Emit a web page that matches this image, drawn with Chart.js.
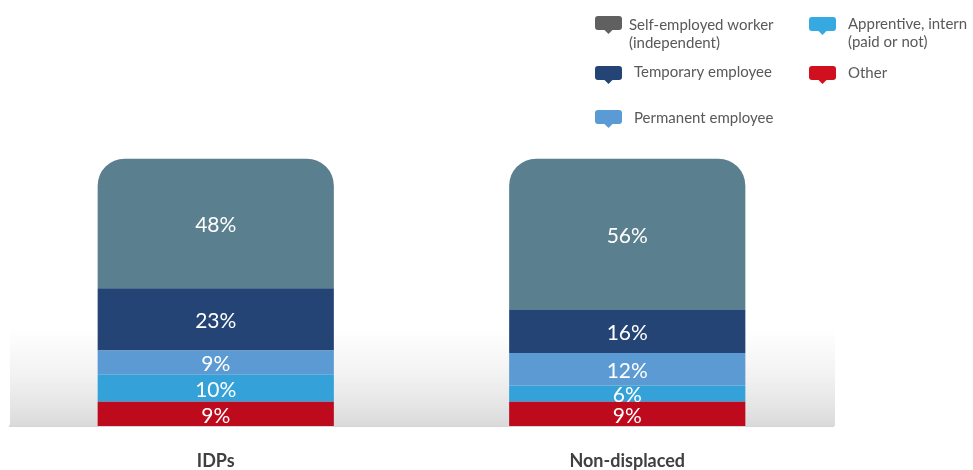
<!DOCTYPE html>
<html>
<head>
  <title>Employment status</title>
  <script src="https://cdn.jsdelivr.net/npm/chart.js"></script>
  <style>
    body { margin: 0; background: #fff; }
    .container { width: 973px; height: 470px; position: relative; }
  </style>
</head>
<body>
  <div class="container">
    <canvas id="statusChart"></canvas>
  </div>
  <script>
    var categories = ['IDPs', 'Non-displaced'];

    // stacked bottom to top
    var other = [9, 9];
    var apprentice = [10, 6];
    var permanent = [9, 12];
    var temporary = [23, 16];
    var selfEmployed = [48, 56];

    var seriesNames = {
      selfEmployed: ['Self-employed worker', '(independent)'],
      temporary: ['Temporary employee'],
      permanent: ['Permanent employee'],
      apprentice: ['Apprentive, intern', '(paid or not)'],
      other: ['Other']
    };

    var barColors = {
      selfEmployed: '#5a7f8f',
      temporary: '#244476',
      permanent: '#5b9ad2',
      apprentice: '#34a2d8',
      other: '#bd0a1c'
    };

    var legendColors = {
      selfEmployed: '#606060',
      temporary: '#244476',
      permanent: '#5b9bd5',
      apprentice: '#36a9e1',
      other: '#d0101e'
    };

    // soft grey floor behind the bars
    var floorShade = {
      id: 'floorShade',
      beforeDatasetsDraw: function(chart) {
        var ctx = chart.ctx;
        var area = chart.chartArea;
        var y0 = 328;
        var g = ctx.createLinearGradient(0, y0, 0, area.bottom);
        g.addColorStop(0, 'rgba(235,235,235,0)');
        g.addColorStop(0.5, 'rgba(232,232,232,0.6)');
        g.addColorStop(1, 'rgba(218,218,218,1)');
        ctx.save();
        ctx.fillStyle = g;
        ctx.fillRect(area.left, y0, area.right - area.left + 2, area.bottom - y0);
        ctx.restore();
      }
    };

    // percentage labels inside each segment
    var segmentLabels = {
      id: 'segmentLabels',
      afterDatasetsDraw: function(chart) {
        var ctx = chart.ctx;
        ctx.save();
        ctx.fillStyle = '#ffffff';
        ctx.font = '21px Lato';
        ctx.textAlign = 'center';
        ctx.textBaseline = 'middle';
        chart.data.datasets.forEach(function(ds, i) {
          var meta = chart.getDatasetMeta(i);
          meta.data.forEach(function(bar, j) {
            var y = (bar.y + bar.base) / 2 + 2;
            ctx.fillText(ds.data[j] + '%', bar.x, y);
          });
        });
        ctx.restore();
      }
    };

    function drawBubble(ctx, x, y, color) {
      var w = 27, h = 14, r = 3;
      ctx.fillStyle = color;
      ctx.beginPath();
      ctx.moveTo(x + r, y);
      ctx.lineTo(x + w - r, y);
      ctx.quadraticCurveTo(x + w, y, x + w, y + r);
      ctx.lineTo(x + w, y + h - r);
      ctx.quadraticCurveTo(x + w, y + h, x + w - r, y + h);
      ctx.lineTo(x + w / 2 + 4, y + h);
      ctx.lineTo(x + w / 2, y + h + 4);
      ctx.lineTo(x + w / 2 - 4, y + h);
      ctx.lineTo(x + r, y + h);
      ctx.quadraticCurveTo(x, y + h, x, y + h - r);
      ctx.lineTo(x, y + r);
      ctx.quadraticCurveTo(x, y, x + r, y);
      ctx.closePath();
      ctx.fill();
    }

    var bubbleLegend = {
      id: 'bubbleLegend',
      afterDraw: function(chart) {
        var ctx = chart.ctx;
        var items = [
          { key: 'selfEmployed', ix: 595, iy: 16, tx: 629, ty: 30 },
          { key: 'temporary', ix: 595, iy: 66, tx: 634, ty: 77 },
          { key: 'permanent', ix: 595, iy: 110, tx: 634, ty: 123 },
          { key: 'apprentice', ix: 809, iy: 17, tx: 848, ty: 29 },
          { key: 'other', ix: 809, iy: 66, tx: 848, ty: 78 }
        ];
        ctx.save();
        items.forEach(function(it) {
          drawBubble(ctx, it.ix, it.iy, legendColors[it.key]);
          ctx.fillStyle = '#595959';
          ctx.font = '15px Lato';
          ctx.textAlign = 'left';
          ctx.textBaseline = 'alphabetic';
          seriesNames[it.key].forEach(function(line, k) {
            ctx.fillText(line, it.tx, it.ty + k * 18);
          });
        });
        ctx.restore();
      }
    };

    function series(key, values) {
      return {
        label: seriesNames[key].join(' '),
        data: values,
        backgroundColor: barColors[key],
        borderWidth: 0
      };
    }

    var topSeries = series('selfEmployed', selfEmployed);
    topSeries.borderRadius = 27;

    new Chart(document.getElementById('statusChart'), {
      type: 'bar',
      data: {
        labels: categories,
        datasets: [
          series('other', other),
          series('apprentice', apprentice),
          series('permanent', permanent),
          series('temporary', temporary),
          topSeries
        ]
      },
      options: {
        responsive: true,
        maintainAspectRatio: false,
        animation: false,
        layout: { padding: { top: 156, left: 10, right: 140, bottom: 0 } },
        datasets: { bar: { categoryPercentage: 1, barPercentage: 0.574 } },
        plugins: {
          legend: { display: false },
          tooltip: { enabled: false }
        },
        scales: {
          x: {
            stacked: true,
            grid: { display: false },
            border: { display: true, color: '#d6d6d6', width: 2 },
            ticks: {
              padding: 16,
              maxRotation: 0,
              color: '#404040',
              font: { family: 'Lato', size: 18, weight: 'bold' }
            },
            afterFit: function(scale) { scale.height = 44; }
          },
          y: {
            stacked: true,
            display: false,
            min: 0,
            max: 100
          }
        }
      },
      plugins: [floorShade, segmentLabels, bubbleLegend]
    });
  </script>
</body>
</html>
